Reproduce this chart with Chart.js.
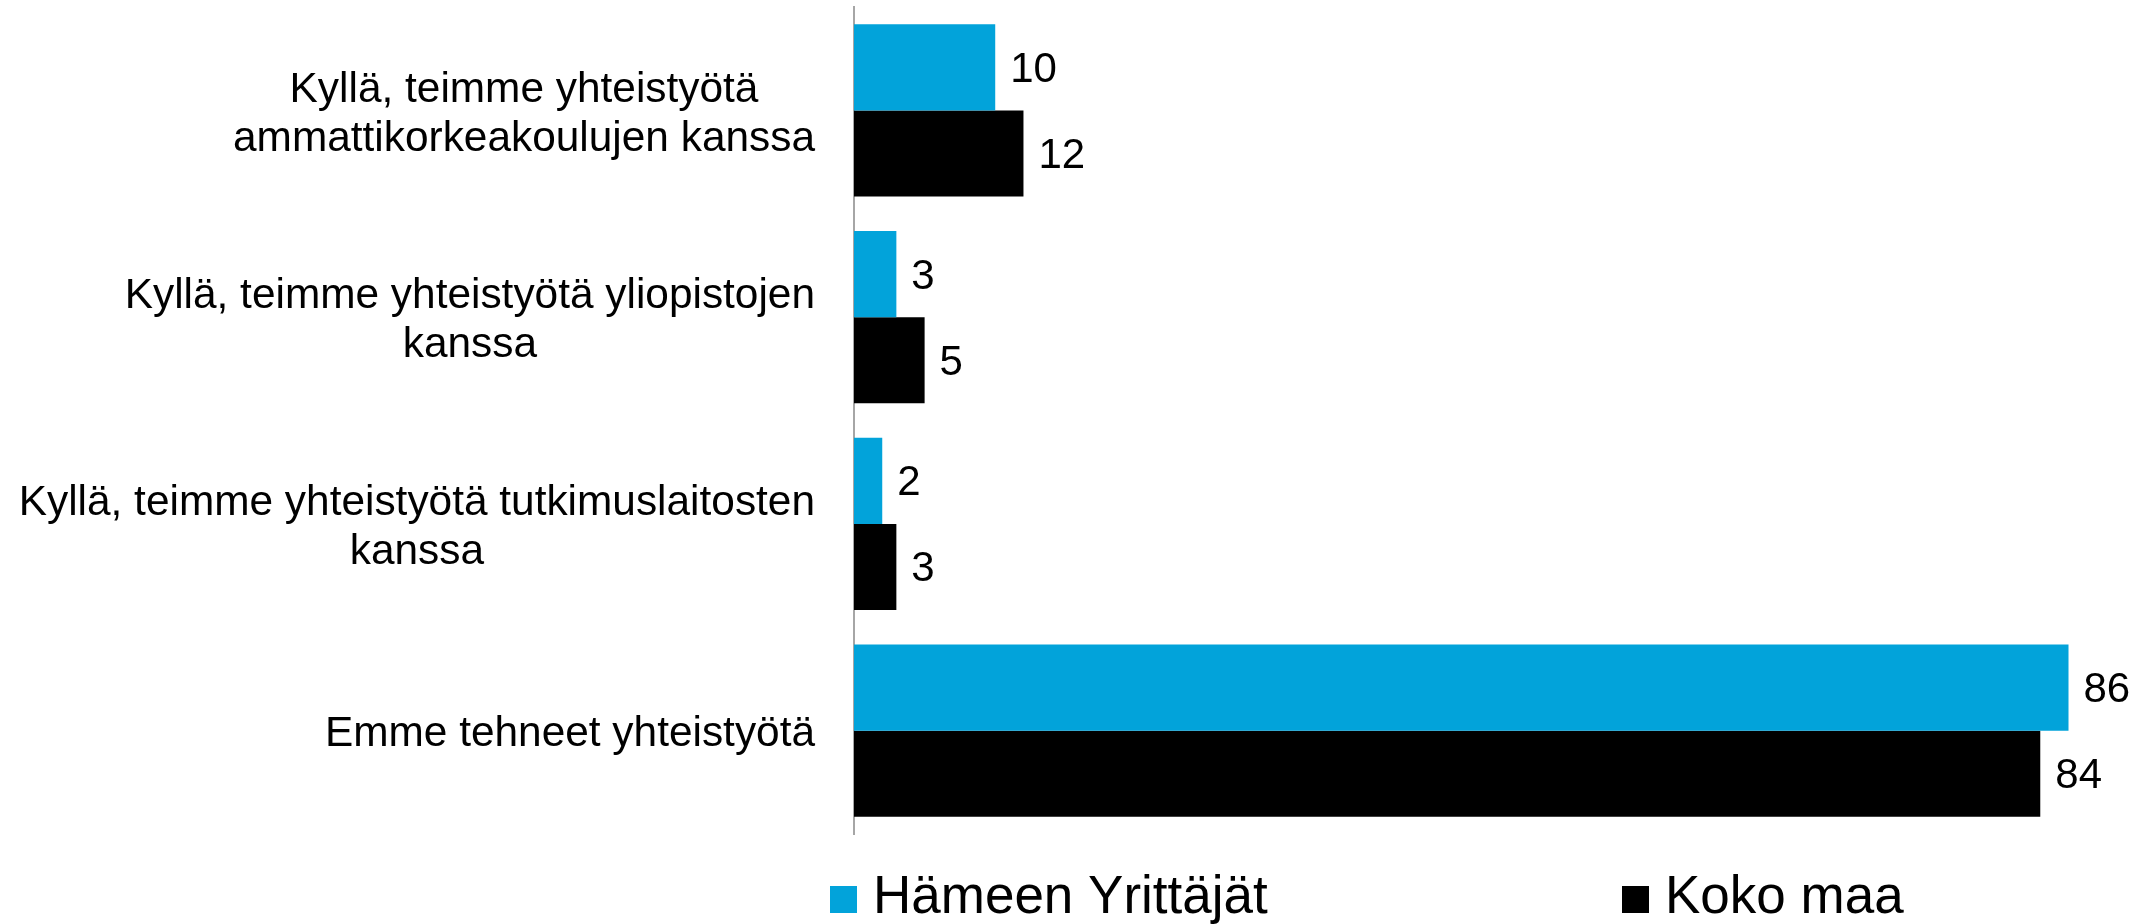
<!DOCTYPE html>
<html>
<head>
<meta charset="utf-8">
<script src="https://cdn.jsdelivr.net/npm/chart.js@4"></script>
<style>
html,body{margin:0;padding:0;background:#fff;}
#wrap{position:relative;width:2144px;height:924px;}
</style>
</head>
<body>
<div id="wrap"><canvas id="c" width="2144" height="924"></canvas></div>
<script>
const categories = [
  ["Kyllä, teimme yhteistyötä", "ammattikorkeakoulujen kanssa"],
  ["Kyllä, teimme yhteistyötä yliopistojen", "kanssa"],
  ["Kyllä, teimme yhteistyötä tutkimuslaitosten", "kanssa"],
  ["Emme tehneet yhteistyötä"]
];
const seriesNames = ["Hämeen Yrittäjät", "Koko maa"];
const hameenValues = [10, 3, 2, 86];
const kokoMaaValues = [12, 5, 3, 84];
const seriesColors = ["#02A3DA", "#000000"];

const FONT = "'Liberation Sans', Arial, sans-serif";

const yLabelPlugin = {
  id: 'yLabels',
  afterDraw(chart) {
    const ctx = chart.ctx;
    const ys = chart.scales.y;
    const right = chart.chartArea.left - 39;
    const lh = 49;
    ctx.save();
    ctx.font = "42.4px " + FONT;
    ctx.fillStyle = "#000";
    ctx.textAlign = "center";
    ctx.textBaseline = "middle";
    chart.data.labels.forEach((lab, i) => {
      const lines = Array.isArray(lab) ? lab : [lab];
      const w = Math.max(...lines.map(l => ctx.measureText(l).width));
      const cx = right - w / 2;
      const y = ys.getPixelForTick(i) + 4;
      lines.forEach((l, j) => {
        ctx.fillText(l, cx, y + (j - (lines.length - 1) / 2) * lh);
      });
    });
    ctx.restore();
  }
};

const valueLabelPlugin = {
  id: 'valueLabels',
  afterDatasetsDraw(chart) {
    const ctx = chart.ctx;
    ctx.save();
    ctx.font = "42px " + FONT;
    ctx.fillStyle = "#000";
    ctx.textAlign = "left";
    ctx.textBaseline = "middle";
    chart.data.datasets.forEach((ds, di) => {
      const meta = chart.getDatasetMeta(di);
      meta.data.forEach((bar, i) => {
        ctx.fillText(String(ds.data[i]), bar.x + 15, bar.y + 3);
      });
    });
    ctx.restore();
  }
};

const legendPlugin = {
  id: 'customLegend',
  afterDraw(chart) {
    const ctx = chart.ctx;
    const items = [
      {box: 830, text: 873},
      {box: 1622, text: 1665}
    ];
    ctx.save();
    ctx.font = "53px " + FONT;
    ctx.textAlign = "left";
    ctx.textBaseline = "alphabetic";
    chart.data.datasets.forEach((ds, i) => {
      const it = items[i];
      ctx.fillStyle = ds.backgroundColor;
      ctx.fillRect(it.box, 886, 27, 27);
      ctx.fillStyle = "#000";
      ctx.fillText(ds.label, it.text, 913);
    });
    ctx.restore();
  }
};

new Chart(document.getElementById('c'), {
  type: 'bar',
  data: {
    labels: categories,
    datasets: [
      {label: seriesNames[0], data: hameenValues, backgroundColor: seriesColors[0]},
      {label: seriesNames[1], data: kokoMaaValues, backgroundColor: seriesColors[1]}
    ]
  },
  options: {
    indexAxis: 'y',
    responsive: false,
    animation: false,
    devicePixelRatio: 1,
    layout: {padding: {top: 7, bottom: 90, right: 19, left: 0}},
    datasets: {bar: {categoryPercentage: 0.832, barPercentage: 1.0}},
    plugins: {legend: {display: false}, tooltip: {enabled: false}},
    scales: {
      x: {display: false, min: 0, max: 90},
      y: {
        grid: {display: false},
        border: {display: true, color: '#A6A6A6', width: 2},
        ticks: {display: false},
        afterFit(scale) { scale.width = 854; }
      }
    }
  },
  plugins: [yLabelPlugin, valueLabelPlugin, legendPlugin]
});
</script>
</body>
</html>
